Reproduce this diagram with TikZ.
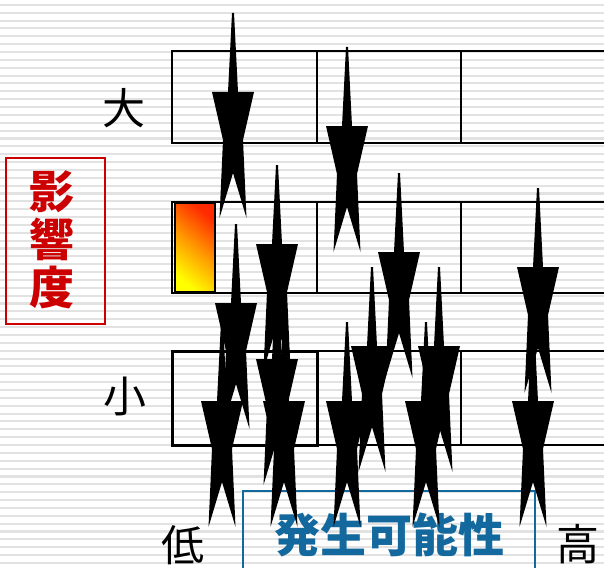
\documentclass[tikz,border=0pt]{standalone}
\usepackage{fontspec}
\newfontfamily\jp{Noto Sans CJK JP}
\definecolor{stripecol}{HTML}{E2E2E2}
\definecolor{redtxt}{HTML}{CC0000}
\definecolor{bluetxt}{HTML}{13689E}
\definecolor{gyellow}{HTML}{FFFF00}
\definecolor{gorange}{HTML}{FF9900}
\definecolor{gred}{HTML}{FF2A00}
\tikzset{
  spikearrow/.pic={\fill[black] (-1,0) -- (1,0) -- (5,79) -- (21,79) -- (10,127) -- (13.5,205) -- (0,160) -- (-13.5,205) -- (-10,127) -- (-21,79) -- (-5,79) -- cycle;},
  gridline/.style={draw=black, line width=2pt},
  thickbox/.style={draw=black, line width=3pt},
  axislabel/.style={font=\jp\fontsize{43}{43}\selectfont, inner sep=0pt, text=black},
  redlabel/.style={font=\jp\bfseries\fontsize{45}{48}\selectfont, text=redtxt, inner sep=0pt, align=center},
  bluelabel/.style={font=\jp\bfseries\fontsize{46}{46}\selectfont, text=bluetxt, inner sep=0pt},
}
\begin{document}
\begin{tikzpicture}[x=1pt, y=-1pt]
\useasboundingbox (0,0) rectangle (604,567);
\clip (0,0) rectangle (604,567);
\fill[white] (0,0) rectangle (604,567);
\foreach \i in {0,...,72} {
  \fill[stripecol] (0,{3.8+\i*7.86}) rectangle (604,{5.9+\i*7.86});
}
% grid rows
\foreach \ya/\yb in {51/143, 202/293, 351/445} {
  \draw[gridline] (172,\ya) rectangle (640,\yb);
  \draw[gridline] (317,\ya) -- (317,\yb);
  \draw[gridline] (461,\ya) -- (461,\yb);
}
\draw[thickbox] (172,351) rectangle (317,445);
% gradient cell
\shade[shading=axis, bottom color=gyellow, top color=gred, middle color=gorange, shading angle=-40] (175,203) rectangle (215,292);
\draw[black, line width=1.5pt] (175,203) rectangle (215,292);
% labels
\node[axislabel] (big) at (124,108) {大};
\node[axislabel] (small) at (125,396) {小};
\node[axislabel] (low) at (183,545) {低};
\node[axislabel] (high) at (578,544) {高};
\draw[redtxt, line width=1.5pt] (6,158) rectangle (105,324);
\node[redlabel] (impact) at (52,240) {影\\響\\度};
\draw[bluetxt, line width=1.5pt] (243,600) -- (243,491) -- (535,491) -- (535,600);
\node[bluelabel] (likely) at (389,535) {発生可能性};
% arrows
\foreach \ax/\ay in {233/13, 347/47, 277/165, 399/173, 538/188, 236/224, 277/280, 222/322, 284/322, 372/267, 439/267, 347/322, 426/322, 533/322} {
  \pic at (\ax,\ay) {spikearrow};
}
\end{tikzpicture}
\end{document}
